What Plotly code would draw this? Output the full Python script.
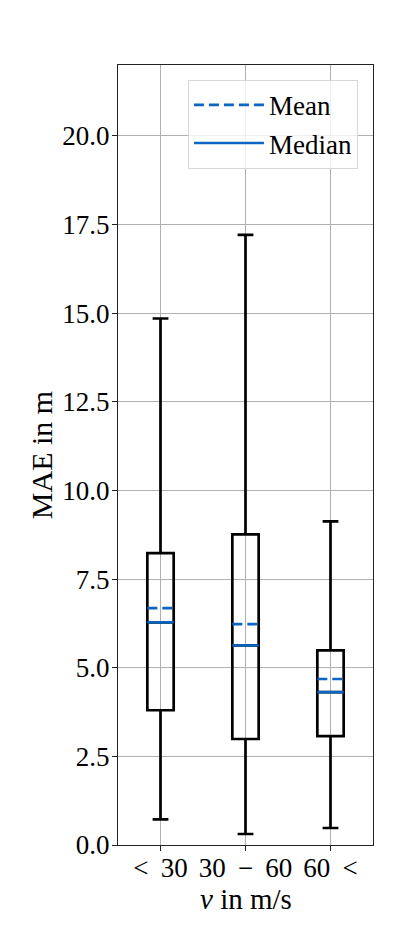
import plotly.graph_objects as go

# box statistics
categories = ["&lt;\u2009 30", "30\u2009 −\u2009 60", "60\u2009 &lt;"]
positions = [1, 2, 3]
lower_whisker = [0.72, 0.31, 0.48]
q1_vals = [3.80, 2.99, 3.07]
median_vals = [6.28, 5.63, 4.31]
mean_vals = [6.68, 6.23, 4.68]
q3_vals = [8.23, 8.76, 5.49]
upper_whisker = [14.85, 17.21, 9.13]
ytick_vals = [0, 2.5, 5, 7.5, 10, 12.5, 15, 17.5, 20]

box_w = 0.31
blue = "#0a66c2"
font_family = "Liberation Serif, DejaVu Serif, serif"


def segments(vals):
    xs, ys = [], []
    for p, v in zip(positions, vals):
        xs += [p - box_w / 2, p + box_w / 2, None]
        ys += [v, v, None]
    return xs, ys


fig = go.Figure()
fig.add_trace(go.Box(
    x=positions,
    q1=q1_vals,
    median=median_vals,
    q3=q3_vals,
    lowerfence=lower_whisker,
    upperfence=upper_whisker,
    width=box_w,
    whiskerwidth=0.6,
    boxpoints=False,
    fillcolor="rgba(255,255,255,0)",
    line=dict(color="black", width=2.7),
    showlegend=False,
    hoverinfo="skip",
))

mx, my = segments(mean_vals)
fig.add_trace(go.Scatter(x=mx, y=my, mode="lines", name="Mean",
                         line=dict(color=blue, width=2.6, dash="10px,5px")))
dx, dy = segments(median_vals)
fig.add_trace(go.Scatter(x=dx, y=dy, mode="lines", name="Median",
                         line=dict(color=blue, width=2.6)))

# the page body has an 8px margin, so the figure is made a bit smaller
fig.update_layout(
    width=397, height=937,
    margin=dict(l=110, r=32, t=57, b=100),
    plot_bgcolor="white", paper_bgcolor="white",
    font=dict(family=font_family, size=27, color="black"),
    legend=dict(x=0.941, y=0.981, xanchor="right", yanchor="top",
                bgcolor="rgba(255,255,255,0.8)", bordercolor="#d8d8d8",
                borderwidth=1, font=dict(size=27), tracegroupgap=0,
                itemwidth=70),
    xaxis=dict(
        range=[0.5, 3.5], tickvals=positions, ticktext=categories,
        showgrid=True, gridcolor="#b0b0b0", gridwidth=1,
        showline=True, linecolor="#222", linewidth=1, mirror=True,
        ticks="outside", ticklen=5, tickcolor="#222",
        ticklabelstandoff=-6,
        zeroline=False,
    ),
    yaxis=dict(
        range=[0, 22], tickvals=ytick_vals, tickformat=".1f",
        showgrid=True, gridcolor="#b0b0b0", gridwidth=1,
        showline=True, linecolor="#222", linewidth=1, mirror=True,
        ticks="outside", ticklen=5, tickcolor="#222",
        ticklabelstandoff=-3,
        zeroline=False,
        title=dict(text="MAE in m", standoff=0, font=dict(size=30)),
    ),
    annotations=[dict(text="<i>v</i> in m/s", xref="paper", yref="paper",
                      x=0.5, y=-0.069, xanchor="center", yanchor="middle",
                      showarrow=False, font=dict(size=29))],
)

fig.write_html("out.html")
